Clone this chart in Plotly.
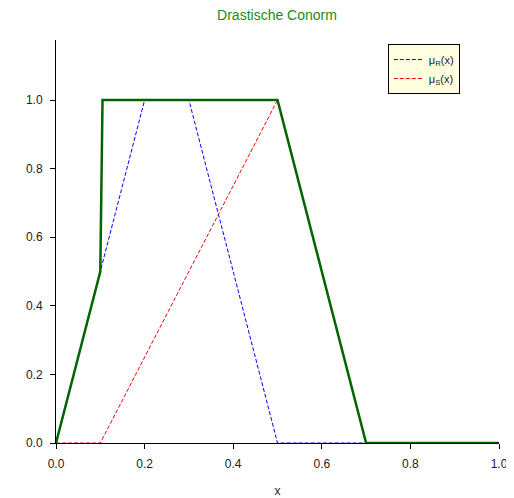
import plotly.graph_objects as go

# membership functions (breakpoints)
x_R = [0.0, 0.2, 0.3, 0.5, 1.0]
mu_R = [0.0, 1.0, 1.0, 0.0, 0.0]

x_S = [0.0, 0.1, 0.5, 0.7, 1.0]
mu_S = [0.0, 0.0, 1.0, 0.0, 0.0]

x_D = [0.0, 0.1, 0.105, 0.5, 0.7, 1.0]
mu_D = [0.0, 0.5, 1.0, 1.0, 0.0, 0.0]

x_ticks = [0.0, 0.2, 0.4, 0.6, 0.8, 1.0]
y_ticks = [0.0, 0.2, 0.4, 0.6, 0.8, 1.0]

fig = go.Figure()
fig.add_trace(go.Scatter(x=x_R, y=mu_R, mode="lines", name="μ<sub>R</sub>(x)",
                         line=dict(color="#0000ff", width=1, dash="4px,2px")))
fig.add_trace(go.Scatter(x=x_S, y=mu_S, mode="lines", name="μ<sub>S</sub>(x)",
                         line=dict(color="#ff0000", width=1, dash="4px,2px")))
fig.add_trace(go.Scatter(x=x_D, y=mu_D, mode="lines", showlegend=False,
                         line=dict(color="#006400", width=2.5)))

# the page body has an 8px default margin; size the figure to fit the window
fig.update_layout(
    width=506, height=490,
    margin=dict(l=48, r=15, t=32, b=55, autoexpand=False),
    paper_bgcolor="white", plot_bgcolor="white",
    font=dict(family="Liberation Sans, Arial, sans-serif", size=12, color="#222"),
    title=dict(text="Drastische Conorm", x=(277 - 8) / 506, xanchor="center",
               y=1 - 7 / 490, yanchor="middle", yref="container",
               font=dict(size=14, color="#1a8a1a")),
    showlegend=True,
    legend=dict(x=0.749, y=0.99, xanchor="left", yanchor="top",
                bgcolor="#FFFFE0", bordercolor="black", borderwidth=1,
                font=dict(size=11, color="#222"), tracegroupgap=0,
                itemwidth=30),
    xaxis=dict(range=[0, 1.0], tickvals=x_ticks, ticktext=[f"{v:.1f}" for v in x_ticks],
               showgrid=False, zeroline=False, showline=True, linecolor="black", linewidth=1,
               ticks="outside", ticklen=5, tickcolor="black", automargin=False,
               ticklabelstandoff=5, tickfont=dict(size=12),
               title=dict(text="x", standoff=24, font=dict(size=12))),
    yaxis=dict(range=[0, 1.175], tickvals=y_ticks, ticktext=[f"{v:.1f}" for v in y_ticks],
               showgrid=False, zeroline=False, showline=True, linecolor="black", linewidth=1,
               ticks="outside", ticklen=5, tickcolor="black", automargin=False,
               ticklabelstandoff=5, tickfont=dict(size=12)),
)
fig.update_traces(cliponaxis=False)

fig.write_html("out.html")
